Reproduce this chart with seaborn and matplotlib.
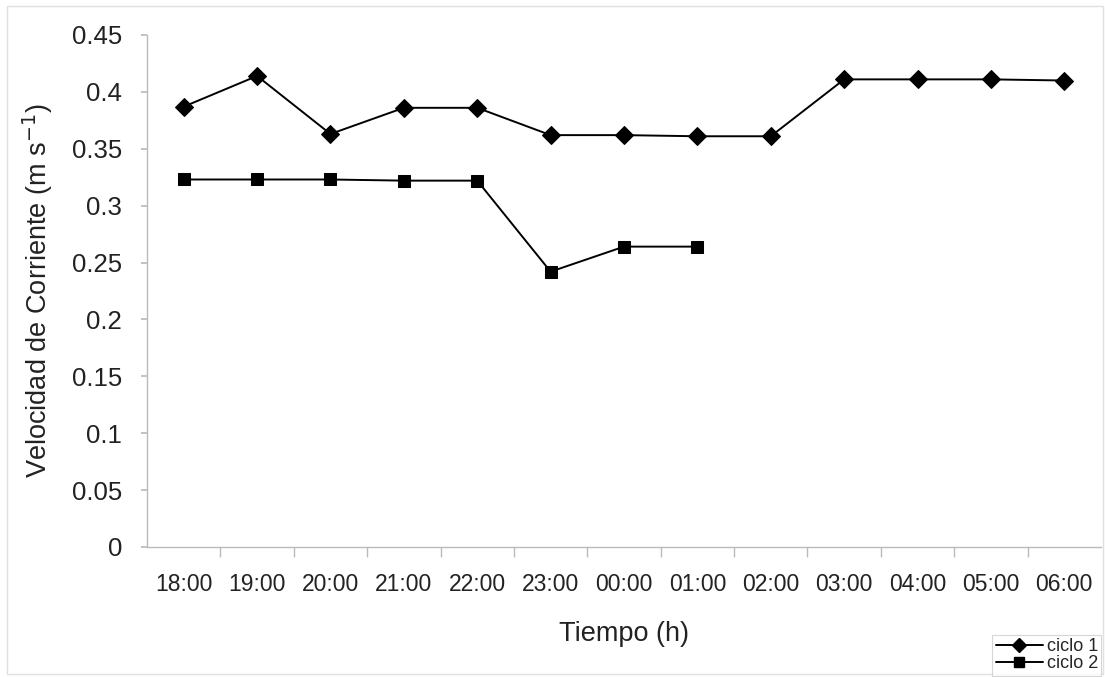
import matplotlib
matplotlib.use("Agg")
import matplotlib.pyplot as plt
from matplotlib.lines import Line2D
from matplotlib.patches import Rectangle
import seaborn as sns
import pandas as pd
import numpy as np

horas = ["18:00", "19:00", "20:00", "21:00", "22:00", "23:00", "00:00",
         "01:00", "02:00", "03:00", "04:00", "05:00", "06:00"]
ciclo1 = [0.387, 0.414, 0.363, 0.386, 0.386, 0.362, 0.362, 0.361, 0.361,
          0.411, 0.411, 0.411, 0.410]
ciclo2 = [0.323, 0.323, 0.323, 0.322, 0.322, 0.242, 0.264, 0.264]
ytick_labels = ["0", "0.05", "0.1", "0.15", "0.2", "0.25", "0.3", "0.35", "0.4", "0.45"]

sns.set_theme(style="white")
plt.rcParams['font.family'] = ['Liberation Sans', 'DejaVu Sans']

rows = []
for i, v in enumerate(ciclo1):
    rows.append({"pos": i, "valor": v, "serie": "ciclo 1"})
for i, v in enumerate(ciclo2):
    rows.append({"pos": i, "valor": v, "serie": "ciclo 2"})
df = pd.DataFrame(rows)

fig = plt.figure(figsize=(11.05, 6.77), dpi=100)
ax = fig.add_axes([147/1105, 1-547/677, (1101-147)/1105, (547-35)/677])

sns.lineplot(data=df, x="pos", y="valor", hue="serie", style="serie",
             markers={"ciclo 1": "D", "ciclo 2": "s"}, dashes=False,
             palette={"ciclo 1": "black", "ciclo 2": "black"},
             markersize=9, linewidth=1.4, ax=ax, legend=False,
             markeredgecolor="black")

ax.set_xlim(-0.5, len(horas) - 0.5)
ax.set_ylim(0, 0.45)
ax.set_xticks(range(len(horas)))
ax.set_xticklabels(horas, fontsize=16.5, color="#222222")
ax.set_xticks(np.arange(0.5, len(horas) - 0.5, 1.0), minor=True)
ax.set_yticks(np.arange(0, 0.451, 0.05))
ax.set_yticklabels(ytick_labels, fontsize=18.5, color="#222222")
ax.set_xlabel("Tiempo (h)", fontsize=19.5, color="#222222", labelpad=18)
ax.set_ylabel("Velocidad de Corriente (m s$^{-1}$)", fontsize=19.5, color="#222222", labelpad=12)

for s in ["top", "right"]:
    ax.spines[s].set_visible(False)
for s in ["left", "bottom"]:
    ax.spines[s].set_color("#bbbbbb")
    ax.spines[s].set_linewidth(1)
ax.tick_params(axis="y", length=4, color="#bbbbbb", direction="out", left=True, pad=14)
ax.tick_params(axis="x", which="major", length=0, pad=19)
ax.tick_params(axis="x", which="minor", length=7, color="#bbbbbb", direction="out", bottom=True)

handles = [Line2D([], [], color="black", marker="D", markersize=7, linewidth=1.4),
           Line2D([], [], color="black", marker="s", markersize=7, linewidth=1.4)]
leg = fig.legend(handles, ["ciclo 1", "ciclo 2"], loc="lower right",
                 bbox_to_anchor=(1.0, -0.004), fontsize=13, frameon=True,
                 fancybox=False, handlelength=2.6, handletextpad=0.2,
                 borderpad=0.2, labelspacing=0.0, borderaxespad=0.2)
leg.get_frame().set_edgecolor("#cccccc")
leg.get_frame().set_linewidth(0.8)

fig.patches.append(Rectangle((7/1105, 3/677), 1096/1105, 668/677, transform=fig.transFigure,
                             fill=False, edgecolor="#e0e0e0", linewidth=1))

fig.savefig("out.png", dpi=100)
